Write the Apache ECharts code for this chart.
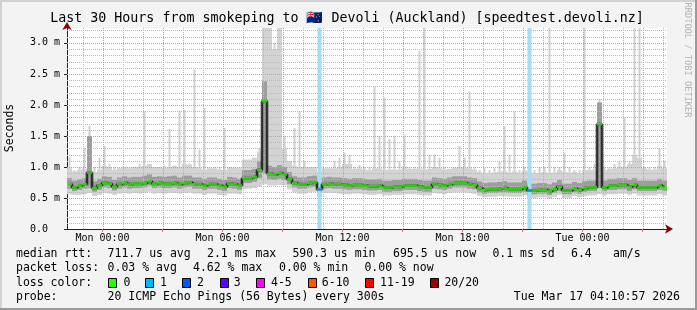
<!DOCTYPE html>
<html><head><meta charset="utf-8">
<script src="https://cdn.jsdelivr.net/npm/echarts@6/dist/echarts.min.js"></script>
<style>html,body{margin:0;padding:0;background:#f3f3f3}#c{width:697px;height:310px}</style>
</head><body><div id="c"></div>
<script>
// ---- time frame (hours relative to Mon 00:00) ----
const startHour = -1.775;
const spanHours = 30;
const slotHours = 0.25;

// ---- median RTT per 15-minute slot (ms) ----
const median = [
 0.72,0.67,0.70,0.72,0.91,0.66,0.70,0.74,0.73,0.68,0.72,0.74,0.72,0.73,0.73,0.74,0.77,0.73,0.74,0.73,0.73,0.74,0.72,0.74,
 0.75,0.72,0.72,0.70,0.72,0.72,0.70,0.68,0.73,0.72,0.70,0.82,0.82,0.84,0.95,2.06,0.89,0.88,0.90,0.88,0.80,0.74,0.72,0.72,
 0.74,0.75,0.64,0.72,0.73,0.72,0.72,0.71,0.70,0.71,0.71,0.70,0.69,0.69,0.70,0.67,0.67,0.68,0.68,0.70,0.70,0.70,0.68,0.67,
 0.67,0.72,0.71,0.70,0.72,0.74,0.74,0.74,0.72,0.71,0.66,0.63,0.64,0.64,0.65,0.66,0.64,0.64,0.64,0.67,0.62,0.62,0.63,0.63,
 0.61,0.64,0.68,0.62,0.62,0.65,0.63,0.66,0.67,0.67,1.69,0.67,0.70,0.70,0.71,0.71,0.68,0.71,0.67,0.67,0.67,0.67,0.70,0.67
];
// ---- smoke: lowest ping ----
const smokeMin = [
 0.56,0.55,0.55,0.56,0.58,0.53,0.55,0.58,0.57,0.55,0.57,0.58,0.57,0.58,0.57,0.58,0.60,0.57,0.58,0.57,0.58,0.58,0.57,0.58,
 0.59,0.57,0.57,0.55,0.57,0.57,0.55,0.54,0.57,0.57,0.56,0.64,0.65,0.66,0.68,0.72,0.70,0.70,0.71,0.70,0.64,0.59,0.57,0.57,
 0.59,0.60,0.52,0.58,0.58,0.58,0.57,0.56,0.56,0.57,0.57,0.56,0.55,0.55,0.56,0.54,0.54,0.55,0.55,0.56,0.56,0.56,0.55,0.54,
 0.54,0.58,0.57,0.56,0.58,0.59,0.59,0.59,0.58,0.57,0.53,0.51,0.52,0.52,0.53,0.53,0.52,0.52,0.52,0.54,0.50,0.50,0.51,0.51,
 0.49,0.52,0.55,0.50,0.50,0.53,0.51,0.53,0.54,0.54,0.56,0.54,0.56,0.56,0.57,0.57,0.55,0.57,0.54,0.54,0.54,0.54,0.56,0.54
];
// ---- smoke: dense band lower edge ----
const smokeQ1 = [
 0.65,0.61,0.63,0.65,0.66,0.60,0.63,0.67,0.66,0.62,0.65,0.67,0.65,0.66,0.66,0.67,0.70,0.66,0.67,0.66,0.66,0.67,0.65,0.67,
 0.68,0.65,0.65,0.63,0.65,0.65,0.63,0.61,0.66,0.65,0.63,0.74,0.74,0.76,0.82,0.90,0.80,0.79,0.81,0.79,0.72,0.67,0.65,0.65,
 0.67,0.68,0.58,0.65,0.66,0.65,0.65,0.64,0.63,0.64,0.64,0.63,0.62,0.62,0.63,0.60,0.60,0.61,0.61,0.63,0.63,0.63,0.61,0.60,
 0.60,0.65,0.64,0.63,0.65,0.67,0.67,0.67,0.65,0.64,0.59,0.57,0.58,0.58,0.59,0.59,0.58,0.58,0.58,0.60,0.56,0.56,0.57,0.57,
 0.55,0.58,0.61,0.56,0.56,0.59,0.57,0.60,0.61,0.61,0.66,0.61,0.63,0.63,0.64,0.64,0.61,0.64,0.61,0.61,0.61,0.61,0.63,0.61
];
// ---- smoke: dense band upper edge ----
const smokeQ3 = [
 0.82,0.78,0.80,0.82,1.50,0.77,0.81,0.85,0.84,0.79,0.83,0.85,0.83,0.84,0.84,0.86,0.88,0.84,0.85,0.84,0.85,0.86,0.83,0.86,
 0.86,0.83,0.83,0.81,0.83,0.83,0.81,0.79,0.84,0.83,0.81,0.95,0.95,0.97,1.10,2.38,1.02,1.00,1.03,1.00,0.92,0.85,0.83,0.83,
 0.85,0.86,0.76,0.83,0.84,0.83,0.83,0.82,0.81,0.82,0.82,0.81,0.80,0.80,0.81,0.78,0.78,0.79,0.79,0.81,0.81,0.81,0.79,0.78,
 0.78,0.83,0.82,0.81,0.83,0.85,0.85,0.85,0.83,0.82,0.77,0.74,0.75,0.75,0.76,0.77,0.75,0.75,0.75,0.78,0.73,0.73,0.74,0.74,
 0.72,0.75,0.79,0.73,0.73,0.76,0.74,0.77,0.78,0.78,2.04,0.78,0.81,0.81,0.82,0.82,0.79,0.82,0.78,0.78,0.78,0.78,0.81,0.78
];
// ---- smoke: upper edge of the broad light body ----
const smokeP90 = [
 0.98,0.93,0.95,0.97,1.05,0.92,0.96,1.02,1.00,0.95,0.98,1.00,0.98,1.00,1.00,1.02,1.05,1.00,1.00,0.99,1.00,1.02,1.00,1.05,
 1.04,1.00,0.98,0.96,0.98,0.98,0.96,0.95,1.00,0.99,0.98,1.12,1.12,1.15,1.25,3.30,3.30,2.90,3.30,1.30,1.10,1.02,1.00,1.00,
 1.00,1.00,0.92,0.98,0.98,0.98,1.00,1.05,1.05,0.97,0.98,0.96,0.95,0.98,0.98,0.95,0.96,0.96,0.96,1.00,0.97,0.97,0.98,0.96,
 0.97,1.00,0.98,0.96,0.97,0.99,1.00,0.99,0.98,0.96,0.92,0.90,0.90,0.91,0.93,0.93,0.91,0.93,0.91,0.94,0.92,0.90,0.91,0.92,
 0.90,0.91,0.95,0.92,0.91,0.92,0.90,0.95,0.95,0.96,1.10,0.95,0.97,0.98,1.00,1.00,1.05,1.20,1.15,0.98,0.96,0.96,1.02,0.98
];
// ---- smoke: highest ping (thin spikes) ----
const smokeMax = [
 1.15,0.95,1.00,1.31,1.66,1.00,1.15,1.34,1.05,1.00,0.98,1.00,1.00,1.00,1.05,1.90,1.05,1.00,0.98,1.02,1.61,1.00,1.91,1.92,
 1.06,2.57,1.28,1.95,1.00,1.00,1.00,1.63,1.00,1.00,1.00,1.10,1.10,1.15,1.30,3.30,3.30,3.00,3.30,1.50,1.10,1.63,1.90,1.10,
 0.98,0.98,0.90,0.95,0.98,1.10,1.15,1.23,1.20,1.00,1.03,1.00,1.00,2.30,1.50,2.12,1.45,1.50,1.10,1.51,1.00,1.00,2.87,3.30,
 1.20,1.20,1.15,1.00,0.95,0.95,1.34,1.15,2.22,1.00,0.95,0.98,0.95,0.98,1.10,1.66,1.20,1.90,0.95,1.00,1.10,0.95,1.00,1.00,
 3.30,1.00,1.00,1.23,1.00,0.95,0.95,3.30,1.00,1.05,2.10,1.00,1.00,1.05,1.10,1.80,1.10,3.30,3.30,1.00,1.00,1.00,1.30,1.10
];
// ---- packet loss (slot index, lost pings of 20) ----
const lossSlots = [50, 92];
const lossCounts = [1, 1];

// ---- axes ----
const yTickValues = [0, 0.5, 1, 1.5, 2, 2.5, 3];
const xLabelHours = [0, 6, 12, 18, 24];
const xLabelText = ['Mon 00:00', 'Mon 06:00', 'Mon 12:00', 'Mon 18:00', 'Tue 00:00'];
const xMajorHours = [0, 3, 6, 9, 12, 15, 18, 21, 24, 27];

// ---- legend ----
const rowLabels = ['median rtt:', 'packet loss:', 'loss color:', 'probe:'];
const rttStats = ['711.7 us avg', '2.1 ms max', '590.3 us min', '695.5 us now', '0.1 ms sd', '6.4', 'am/s'];
const lossStats = ['0.03 % avg', '4.62 % max', '0.00 % min', '0.00 % now'];
const lossColorLabels = ['0', '1', '2', '3', '4-5', '6-10', '11-19', '20/20'];
const lossColorValues = ['#26ff00', '#00b8ff', '#0059ff', '#5e00ff', '#ff00ff', '#ff5500', '#ff0000', '#a10000'];
const lossColorUpper = [0, 1, 2, 3, 5, 10, 19, 20];
const probeText = '20 ICMP Echo Pings (56 Bytes) every 300s';
const stampText = 'Tue Mar 17 04:10:57 2026';
const titleText = 'Last 30 Hours from smokeping to \u{1F1F3}\u{1F1FF} Devoli (Auckland) [speedtest.devoli.nz]';

// ---- build ----
const MONO = "'DejaVu Sans Mono', monospace";
const slotTime = median.map((_, i) => startHour + (i + 0.5) * slotHours);
const lossBySlot = median.map((_, i) => { const k = lossSlots.indexOf(i); return k < 0 ? 0 : lossCounts[k]; });
function lossColor(n) { for (let i = 0; i < lossColorUpper.length; i++) if (n <= lossColorUpper[i]) return lossColorValues[i]; return lossColorValues[lossColorValues.length - 1]; }

const smokeData = median.map((_, i) => [slotTime[i], smokeMin[i], smokeQ1[i], smokeQ3[i], smokeP90[i], smokeMax[i]]);
const medianData = median.map((v, i) => [slotTime[i], v]);
const dotData = median.map((v, i) => [slotTime[i], v, lossBySlot[i]]);
const lossData = lossSlots.map((s, k) => [slotTime[s], lossCounts[k]]);

const gridData = [];
for (let k = 1; k <= 32; k++) gridData.push([0, k / 10]);
for (let h = -1; h <= 28; h++) gridData.push([1, h]);

const chart = echarts.init(document.getElementById('c'), null, { renderer: 'canvas' });
const topV = 3.24;

function clampY(y, cs) { return Math.max(cs.y, Math.min(cs.y + cs.height, y)); }

const option = {
  animation: false,
  backgroundColor: '#f3f3f3',
  grid: { left: 67, right: 30, top: 28, bottom: 81, show: true, backgroundColor: '#ffffff', borderWidth: 0 },
  xAxis: [{
    type: 'value', min: startHour, max: startHour + spanHours,
    axisLine: { show: true, onZero: false, lineStyle: { color: '#202020', width: 1 } },
    axisTick: { show: true, customValues: xMajorHours, length: 3, lineStyle: { color: '#e07070' } },
    axisLabel: { show: true, customValues: xLabelHours, margin: 4, fontFamily: MONO, fontSize: 10, color: '#000',
      formatter: v => { const k = xLabelHours.indexOf(Math.round(v)); return k < 0 ? '' : xLabelText[k]; } },
    splitLine: { show: false }
  }, {
    type: 'value', min: startHour, max: startHour + spanHours, position: 'bottom',
    axisLine: { show: true, onZero: false, symbol: ['none', 'arrow'], symbolSize: [7, 8], symbolOffset: [0, 6],
      lineStyle: { color: '#8b0000', width: 0 } },
    axisTick: { show: false }, axisLabel: { show: false }, splitLine: { show: false }
  }],
  yAxis: [{
    type: 'value', min: 0, max: topV,
    axisLine: { show: true, onZero: false, lineStyle: { color: '#202020', width: 1 } },
    axisTick: { show: true, customValues: yTickValues, length: 3, lineStyle: { color: '#202020' } },
    axisLabel: { show: true, customValues: yTickValues, align: 'left', margin: 37, fontFamily: MONO, fontSize: 10, color: '#000',
      formatter: v => v === 0 ? '0.0' : v.toFixed(1) + ' m' },
    splitLine: { show: false }
  }, {
    type: 'value', min: 0, max: topV, position: 'left',
    axisLine: { show: true, onZero: false, symbol: ['none', 'arrow'], symbolSize: [7, 8], symbolOffset: [0, 6],
      lineStyle: { color: '#8b0000', width: 0 } },
    axisTick: { show: false }, axisLabel: { show: false }, splitLine: { show: false }
  }],
  series: [
    { // smoke
      type: 'custom', z: 2, data: smokeData, silent: true,
      renderItem: (params, api) => {
        const cs = params.coordSys;
        const t = api.value(0);
        const xl = api.coord([t - slotHours / 2, 0])[0];
        const xr = api.coord([t + slotHours / 2, 0])[0];
        const xc = (xl + xr) / 2;
        const y = k => clampY(api.coord([t, api.value(k)])[1], cs);
        const yMin = y(1), yQ1 = y(2), yQ3 = y(3), yP90 = y(4), yMax = y(5);
        const ch = [
          { type: 'rect', shape: { x: xl, y: yP90, width: xr - xl, height: yMin - yP90 }, style: { fill: '#d3d3d3' } }
        ];
        if (yMax < yP90) ch.push({ type: 'rect', shape: { x: xc - 1, y: yMax, width: 2, height: yP90 - yMax }, style: { fill: '#d0d0d0' } });
        ch.push({ type: 'rect', shape: { x: xl, y: yQ3, width: xr - xl, height: yQ1 - yQ3 }, style: { fill: '#9d9d9d' } });
        return { type: 'group', children: ch };
      }
    },
    { // grid lines
      type: 'custom', z: 3, data: gridData, silent: true,
      renderItem: (params, api) => {
        const cs = params.coordSys;
        const kind = api.value(0), v = api.value(1);
        if (kind === 0) {
          const yy = Math.round(api.coord([startHour, v])[1]) + 0.5;
          const major = Math.abs(v * 2 - Math.round(v * 2)) < 1e-6;
          return { type: 'line', shape: { x1: cs.x, y1: yy, x2: cs.x + cs.width, y2: yy },
            style: { stroke: major ? '#ee8c8c' : '#b9b9b9', lineWidth: 1, lineDash: [1, 1] } };
        }
        const xx = Math.round(api.coord([v, 0])[0]) + 0.5;
        const major = ((v % 3) + 3) % 3 === 0;
        return { type: 'line', shape: { x1: xx, y1: cs.y, x2: xx, y2: cs.y + cs.height },
          style: { stroke: major ? '#ee8c8c' : '#b9b9b9', lineWidth: 1, lineDash: [1, 1] } };
      }
    },
    { // loss bands
      type: 'custom', z: 4, data: lossData, silent: true,
      renderItem: (params, api) => {
        const cs = params.coordSys;
        const xc = api.coord([api.value(0), 0])[0];
        return { type: 'rect', shape: { x: xc - 2, y: cs.y, width: 4, height: cs.height }, style: { fill: '#a6dcf4' } };
      }
    },
    { // dark core
      type: 'line', z: 5, step: 'middle', data: medianData, showSymbol: false, silent: true,
      lineStyle: { color: 'rgba(40,40,40,0.6)', width: 3 }
    },
    { // median step line
      type: 'line', z: 6, step: 'middle', data: medianData, showSymbol: false, silent: true,
      lineStyle: { color: '#000', width: 1 }
    },
    { // loss-coloured median dashes
      type: 'scatter', z: 7, data: dotData, symbol: 'rect', symbolSize: [5, 2.5], silent: true,
      itemStyle: { color: p => lossColor(p.value[2]) }
    }
  ],
  graphic: [
    { type: 'rect', shape: { x: 0, y: 0, width: 697, height: 2 }, style: { fill: '#d2d2d2' }, silent: true },
    { type: 'rect', shape: { x: 0, y: 0, width: 2, height: 310 }, style: { fill: '#d2d2d2' }, silent: true },
    { type: 'rect', shape: { x: 695, y: 0, width: 2, height: 310 }, style: { fill: '#9a9a9a' }, silent: true },
    { type: 'rect', shape: { x: 0, y: 308, width: 697, height: 2 }, style: { fill: '#9a9a9a' }, silent: true },
    { type: 'text', x: 347, y: 19, style: { text: titleText, font: "13.3px " + MONO, fill: '#000', align: 'center', verticalAlign: 'middle' } },
    { type: 'text', x: 10, y: 128, rotation: Math.PI / 2, style: { text: 'Seconds', font: "11.5px " + MONO, fill: '#000', align: 'center', verticalAlign: 'middle' } },
    { type: 'text', x: 687, y: 60, rotation: -Math.PI / 2, style: { text: 'RRDTOOL / TOBI OETIKER', font: "8.7px " + MONO, fill: '#b4b4b4', align: 'center', verticalAlign: 'middle' } }
  ]
};

// legend rows
const LF = "11.5px " + MONO;
const rowY = [254, 268.5, 283, 297.5];
rowLabels.forEach((t, i) => option.graphic.push({ type: 'text', x: 16, y: rowY[i], style: { text: t, font: LF, fill: '#000', verticalAlign: 'middle' } }));
const rttX = [107.6, 207, 292.4, 393, 492.4, 571, 613];
rttStats.forEach((t, i) => option.graphic.push({ type: 'text', x: rttX[i], y: rowY[0], style: { text: t, font: LF, fill: '#000', verticalAlign: 'middle' } }));
const lossX = [107.6, 193, 279, 364.4];
lossStats.forEach((t, i) => option.graphic.push({ type: 'text', x: lossX[i], y: rowY[1], style: { text: t, font: LF, fill: '#000', verticalAlign: 'middle' } }));
const swX = [108, 145.3, 182, 219.6, 256.4, 307.6, 365, 430];
const swLabelX = [123.6, 160, 197, 233.8, 271, 321.8, 380, 444.4];
lossColorLabels.forEach((t, i) => {
  option.graphic.push({ type: 'rect', shape: { x: Math.round(swX[i]) + 0.5, y: Math.round(rowY[2] - 5) + 0.5, width: 8, height: 9 }, style: { fill: lossColorValues[i], stroke: '#000', lineWidth: 1 } });
  option.graphic.push({ type: 'text', x: swLabelX[i], y: rowY[2], style: { text: t, font: LF, fill: '#000', verticalAlign: 'middle' } });
});
option.graphic.push({ type: 'text', x: 107.6, y: rowY[3], style: { text: probeText, font: LF, fill: '#000', verticalAlign: 'middle' } });
option.graphic.push({ type: 'text', x: 680, y: rowY[3], style: { text: stampText, font: LF, fill: '#000', align: 'right', verticalAlign: 'middle' } });

chart.setOption(option);
</script>
</body></html>
